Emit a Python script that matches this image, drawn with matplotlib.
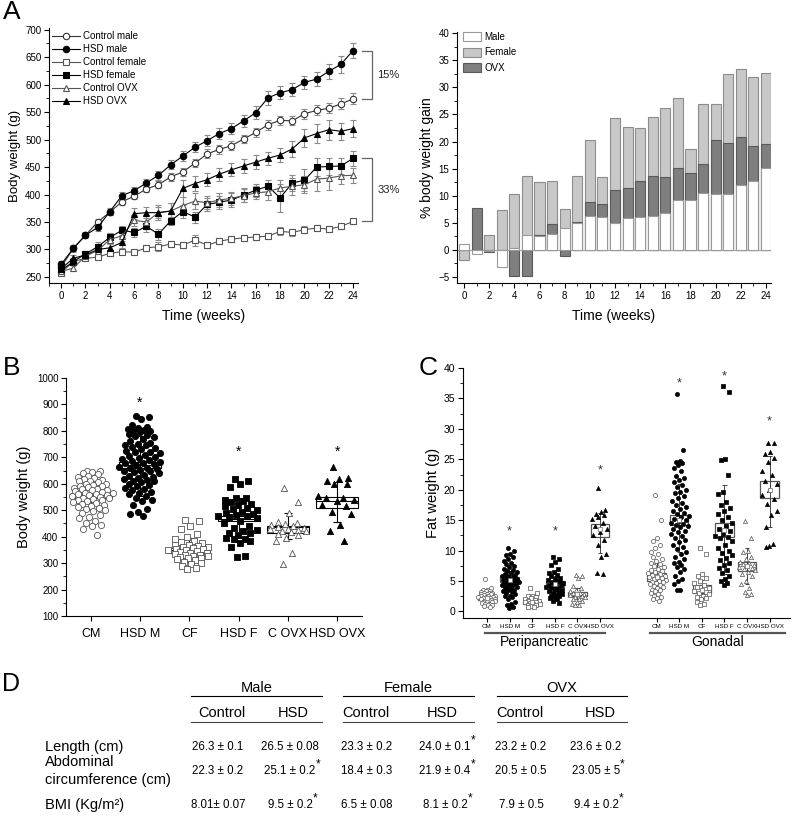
import numpy as np
import matplotlib
matplotlib.use("Agg")
import matplotlib.pyplot as plt
from matplotlib.lines import Line2D
from matplotlib.text import Annotation
from matplotlib.ticker import MultipleLocator
from matplotlib.transforms import blended_transform_factory

plt.rcParams['font.family'] = ['Liberation Sans', 'DejaVu Sans']

# ---------------- data: panel A (body weight time course) ----------------
weeks = np.arange(25)
ctrl_male = [268, 302, 326, 350, 368, 387, 397, 410, 418, 432, 441, 457, 474, 482, 489,
             501, 513, 527, 535, 534, 547, 553, 557, 565, 574]
hsd_male = [273, 302, 326, 340, 369, 398, 407, 421, 435, 454, 470, 486, 498, 511, 520,
            534, 549, 576, 585, 591, 604, 610, 624, 637, 662]
ctrl_female = [258, 278, 284, 286, 293, 296, 295, 303, 305, 310, 308, 317, 308, 315, 319,
               321, 323, 324, 333, 331, 336, 339, 337, 342, 351]
hsd_female = [262, 278, 292, 305, 322, 335, 331, 342, 328, 352, 369, 359, 382, 386, 390,
              399, 408, 415, 394, 421, 426, 450, 451, 452, 466]
ctrl_ovx = [260, 266, 288, 298, 318, 325, 353, 350, 367, 370, 380, 388, 385, 390, 393,
            398, 403, 405, 412, 415, 418, 428, 430, 434, 435]
hsd_ovx = [265, 284, 290, 300, 303, 313, 365, 367, 367, 370, 411, 420, 427, 437, 445,
           452, 459, 466, 472, 483, 503, 511, 518, 515, 520]

ctrl_male_err = [5, 5, 4, 5, 5, 6, 6, 6, 6, 7, 7, 7, 8, 8, 8, 8, 8, 9, 8, 8, 9, 9, 9, 10, 10]
hsd_male_err = [6, 6, 5, 6, 6, 7, 7, 8, 8, 8, 9, 9, 10, 10, 10, 11, 12, 13, 12, 12, 12, 13, 14, 15, 13]
ctrl_female_err = [4, 4, 4, 4, 5, 5, 4, 6, 8, 5, 5, 10, 5, 5, 5, 5, 5, 5, 7, 6, 6, 5, 5, 5, 5]
hsd_female_err = [6, 6, 6, 8, 8, 8, 8, 10, 10, 8, 12, 10, 12, 12, 12, 12, 12, 12, 25, 15, 20, 16, 16, 14, 14]
ctrl_ovx_err = [5, 5, 6, 6, 8, 10, 10, 12, 14, 15, 15, 15, 12, 12, 12, 12, 12, 15, 15, 15, 15, 22, 22, 15, 14]
hsd_ovx_err = [6, 6, 8, 8, 10, 10, 10, 10, 10, 15, 15, 14, 12, 12, 12, 12, 12, 12, 12, 14, 17, 18, 18, 15, 16]

# % body weight gain (HSD vs control)
gain_male = [1.1, -0.7, -0.2, -3.1, 0.4, 2.7, 2.5, 3.0, 4.0, 5.0, 6.3, 6.1, 5.0, 5.9, 6.1,
             6.3, 6.8, 9.3, 9.3, 10.5, 10.3, 10.3, 11.9, 12.8, 15.1]
gain_female = [-1.8, 0.0, 2.7, 7.4, 10.3, 13.7, 12.5, 12.8, 7.6, 13.7, 20.2, 13.4, 24.3, 22.6, 22.5,
               24.5, 26.1, 28.1, 18.6, 27.0, 27.0, 32.5, 33.4, 31.9, 32.7]
gain_ovx = [0.0, 7.8, -0.4, 0.0, -4.9, -4.8, 2.7, 4.7, -1.1, 5.2, 8.8, 8.5, 11.0, 11.4, 12.7,
            13.7, 13.5, 15.2, 14.2, 15.8, 20.2, 19.8, 20.9, 19.1, 19.5]

# ---------------- data: panel B (final body weight) ----------------
groups_b = ['CM', 'HSD M', 'CF', 'HSD F', 'C OVX', 'HSD OVX']
bw_cm = [650, 648, 645, 640, 636, 630, 626, 621, 618, 615, 612, 609, 605, 601, 598, 596, 593, 590,
         588, 585, 582, 580, 577, 575, 572, 570, 567, 565, 562, 560, 558, 556, 553, 550, 548, 545,
         542, 540, 537, 535, 532, 529, 525, 520, 516, 512, 509, 505, 500, 496, 490, 482, 476, 470,
         461, 452, 445, 440, 430, 405]
bw_hsdm = [858, 852, 845, 822, 815, 810, 808, 805, 800, 798, 795, 790, 786, 780, 776, 770, 762, 755,
           750, 748, 745, 740, 735, 730, 725, 722, 720, 715, 710, 705, 700, 698, 695, 690, 685, 682,
           680, 678, 675, 670, 665, 660, 658, 655, 652, 650, 648, 645, 640, 635, 630, 625, 620, 618,
           615, 612, 610, 605, 600, 595, 590, 585, 580, 575, 570, 565, 560, 552, 545, 540, 535, 520,
           505, 495, 485, 480]
bw_cf = [462, 458, 440, 430, 410, 400, 392, 385, 378, 375, 370, 368, 365, 362, 360, 358, 355, 352,
         350, 348, 345, 342, 340, 338, 335, 332, 330, 328, 325, 322, 320, 318, 315, 310, 305, 300,
         295, 290, 282, 278]
bw_hsdf = [618, 612, 600, 588, 548, 545, 540, 535, 530, 525, 520, 515, 510, 505, 500, 495, 490, 485,
           482, 480, 478, 475, 470, 460, 450, 440, 432, 425, 420, 415, 412, 405, 395, 392, 390, 385,
           375, 362, 328, 322]
bw_covx = [585, 532, 490, 455, 452, 448, 443, 440, 436, 432, 430, 428, 425, 422, 420, 418, 410, 405,
           395, 385, 340, 295]
bw_hsdovx = [662, 622, 618, 612, 600, 600, 555, 548, 545, 540, 535, 520, 515, 495, 485, 445, 420, 385]
bw_box_lo = [548, 659, 340, 458, 415, 510]
bw_box_hi = [563, 684, 356, 479, 442, 549]
bw_mean = [556, 670, 348, 468, 436, 533]
bw_whisk_lo = [505, 555, 305, 395, 390, 455]
bw_whisk_hi = [610, 780, 395, 545, 490, 606]
bw_star = [None, 905, None, 722, None, 722]

# ---------------- data: panel C (fat weight) ----------------
peri_cm = [5.4, 3.8, 3.6, 3.5, 3.4, 3.3, 3.2, 3.1, 3.0, 3.0, 2.9, 2.8, 2.8, 2.7, 2.6, 2.5, 2.5, 2.4,
           2.4, 2.3, 2.2, 2.2, 2.1, 2.0, 2.0, 1.9, 1.8, 1.8, 1.7, 1.6, 1.5, 1.5, 1.4, 1.3, 1.2, 1.1,
           1.0, 0.9, 0.8]
peri_hsdm = [10.4, 10.0, 9.5, 9.2, 9.0, 8.6, 8.3, 8.0, 7.8, 7.5, 7.3, 7.0, 6.8, 6.6, 6.5, 6.3, 6.1,
             6.0, 5.9, 5.8, 5.6, 5.5, 5.4, 5.3, 5.2, 5.1, 5.0, 4.9, 4.8, 4.7, 4.6, 4.5, 4.4, 4.3,
             4.2, 4.0, 3.9, 3.8, 3.6, 3.5, 3.4, 3.2, 3.0, 2.8, 2.6, 2.5, 2.3, 2.0, 1.5, 1.2, 1.0,
             0.8, 0.6]
peri_cf = [3.9, 3.0, 2.6, 2.5, 2.3, 2.2, 2.0, 1.9, 1.8, 1.7, 1.6, 1.5, 1.5, 1.4, 1.3, 1.2, 1.1,
           1.0, 0.9, 0.8, 0.7]
peri_hsdf = [8.9, 8.6, 8.2, 7.6, 7.0, 6.5, 6.3, 6.0, 5.8, 5.5, 5.3, 5.1, 5.0, 4.8, 4.7, 4.5, 4.4,
             4.3, 4.2, 4.0, 3.9, 3.8, 3.6, 3.5, 3.4, 3.2, 3.0, 2.9, 2.7, 2.6, 2.5, 2.4, 2.2, 2.0,
             1.8, 1.4]
peri_covx = [6.0, 5.8, 5.5, 4.2, 3.8, 3.5, 3.3, 3.1, 3.0, 2.9, 2.8, 2.7, 2.5, 2.4, 2.3, 2.1, 2.0,
             1.8, 1.6, 1.3, 1.1, 1.0]
peri_hsdovx = [20.3, 16.7, 16.4, 16.0, 15.8, 15.6, 15.2, 14.5, 14.0, 13.5, 13.0, 12.5, 11.7, 11.0,
               9.5, 9.0, 6.3, 6.1]
gon_cm = [19.2, 15.1, 12.0, 11.6, 11.0, 10.5, 9.8, 9.5, 9.0, 8.6, 8.3, 8.0, 7.8, 7.5, 7.3, 7.0, 6.8,
          6.6, 6.5, 6.3, 6.2, 6.0, 5.9, 5.8, 5.6, 5.5, 5.4, 5.2, 5.0, 4.9, 4.8, 4.6, 4.5, 4.3, 4.2,
          4.0, 3.8, 3.6, 3.5, 3.3, 3.0, 2.8, 2.6, 2.4, 2.2, 2.0, 1.8]
gon_hsdm = [35.8, 26.6, 24.7, 24.5, 24.4, 24.0, 23.5, 23.0, 22.3, 22.0, 21.6, 21.2, 20.8, 20.5, 20.0,
            19.7, 19.4, 19.0, 18.6, 18.2, 17.8, 17.5, 17.2, 16.8, 16.5, 16.2, 16.0, 15.7, 15.5, 15.2,
            15.0, 14.8, 14.6, 14.4, 14.2, 14.0, 13.8, 13.5, 13.2, 13.0, 12.7, 12.4, 12.0, 11.7, 11.4,
            11.0, 10.6, 10.2, 9.8, 9.5, 9.0, 8.6, 8.2, 8.0, 7.6, 7.3, 7.0, 6.5, 5.8, 5.4, 5.0, 4.5,
            3.6, 3.5]
gon_cf = [10.5, 9.5, 6.1, 5.8, 5.5, 5.0, 4.6, 4.3, 4.0, 3.8, 3.6, 3.4, 3.2, 3.0, 2.8, 2.6, 2.4, 2.2,
          2.0, 1.6, 1.3, 1.0]
gon_hsdf = [37.0, 36.1, 25.0, 24.9, 22.4, 19.7, 19.3, 18.0, 17.5, 17.0, 16.5, 16.0, 15.5, 15.0, 14.5,
            14.0, 13.6, 13.2, 12.8, 12.4, 12.2, 12.0, 11.5, 11.0, 10.5, 10.0, 9.6, 9.2, 8.8, 8.5, 8.0,
            7.6, 7.2, 6.8, 6.3, 5.8, 5.3, 5.0, 4.6, 4.3]
gon_covx = [14.8, 12.0, 10.0, 9.8, 9.0, 8.6, 8.2, 8.0, 7.8, 7.6, 7.5, 7.3, 7.1, 7.0, 6.8, 6.5, 6.2,
            5.8, 5.0, 4.5, 3.8, 3.2, 2.9, 2.7]
gon_hsdovx = [27.7, 27.6, 26.2, 25.9, 25.2, 24.5, 23.0, 22.5, 21.5, 21.0, 20.0, 19.2, 18.5, 17.6,
              16.5, 15.8, 13.8, 11.1, 10.8, 10.6]
fat_box_lo = [1.9, 4.8, 1.3, 4.1, 2.5, 12.3, 5.0, 14.2, 3.0, 12.2, 6.7, 18.6]
fat_box_hi = [2.6, 5.6, 1.8, 5.0, 3.2, 14.4, 6.4, 15.8, 4.3, 14.6, 8.2, 21.4]
fat_mean = [2.2, 5.2, 1.5, 4.5, 2.9, 13.5, 5.7, 15.0, 3.6, 13.4, 7.5, 20.0]
fat_whisk_lo = [1.6, 3.8, 1.1, 3.3, 2.0, 9.6, 3.5, 9.8, 2.0, 6.2, 4.5, 13.8]
fat_whisk_hi = [2.9, 6.6, 2.2, 5.8, 3.8, 16.2, 8.0, 21.0, 5.2, 20.7, 10.5, 25.5]
fat_star = [None, 13.1, None, 13.1, None, 23.2, None, 37.5, None, 38.6, None, 31.2]

# ---------------- data: panel D (table) ----------------
table_groups = ['Male', 'Female', 'OVX']
table_rows = ['Length (cm)', 'Abdominal\ncircumference (cm)', 'BMI (Kg/m\u00b2)']
table_vals = [
    ['26.3 \u00b1 0.1', '26.5 \u00b1 0.08', '23.3 \u00b1 0.2', '24.0 \u00b1 0.1', '23.2 \u00b1 0.2', '23.6 \u00b1 0.2'],
    ['22.3 \u00b1 0.2', '25.1 \u00b1 0.2', '18.4 \u00b1 0.3', '21.9 \u00b1 0.4', '20.5 \u00b1 0.5', '23.05 \u00b1 5'],
    ['8.01\u00b1 0.07', '9.5 \u00b1 0.2', '6.5 \u00b1 0.08', '8.1 \u00b1 0.2', '7.9 \u00b1 0.5', '9.4 \u00b1 0.2'],
]
table_sig = [
    [False, False, False, True, False, False],
    [False, True, False, True, False, True],
    [False, True, False, True, False, True],
]

# ---------------- figure ----------------
W, H = 797, 822
fig = plt.figure(figsize=(W / 100, H / 100), dpi=100)


def px_axes(l, t, r, b):
    return fig.add_axes([l / W, 1 - b / H, (r - l) / W, (b - t) / H])


def style(ax, fs=7):
    for s in ('top', 'right'):
        ax.spines[s].set_visible(False)
    for s in ('left', 'bottom'):
        ax.spines[s].set_linewidth(0.8)
    ax.tick_params(which='major', direction='out', length=3.5, width=0.8, labelsize=fs, pad=2)
    ax.tick_params(which='minor', direction='out', length=2, width=0.6)


def jitter(n, half):
    # low-discrepancy spread, narrower at the extremes of each cloud
    base = ((np.arange(n) * 0.6180339887 + 0.31) % 1.0) - 0.5
    q = np.arange(n) / max(n - 1, 1)
    shape = 0.45 + 0.55 * (1 - np.abs(2 * q - 1))
    return base * 2 * half * shape


def ftext(x, y, s, **kw):
    return fig.text(x / W, 1 - y / H, s, **kw)


def fline(x0, x1, y, **kw):
    fig.add_artist(Line2D([x0 / W, x1 / W], [1 - y / H] * 2, **kw))


# === A left: body weight over time ===
ax = px_axes(49, 28, 358, 283)
style(ax)
lines_a = [
    ('Control male', ctrl_male, ctrl_male_err, 'o', 4.6, 'white', '#333333'),
    ('HSD male', hsd_male, hsd_male_err, 'o', 4.6, 'black', 'black'),
    ('Control female', ctrl_female, ctrl_female_err, 's', 4.2, 'white', '#555555'),
    ('HSD female', hsd_female, hsd_female_err, 's', 4.2, 'black', 'black'),
    ('Control OVX', ctrl_ovx, ctrl_ovx_err, '^', 5.0, 'white', '#555555'),
    ('HSD OVX', hsd_ovx, hsd_ovx_err, '^', 5.0, 'black', 'black'),
]
for label, y, e, m, ms, fc, c in lines_a:
    ax.errorbar(weeks, y, yerr=e, fmt='none', ecolor='#8a8a8a', elinewidth=0.8,
                capsize=2, capthick=0.8, zorder=1)
    ax.plot(weeks, y, marker=m, ms=ms, mfc=fc, mec=c, mew=0.8, color=c, lw=0.8,
            label=label, zorder=2)
ax.set_xlim(-1.0, 24.4)
ax.set_ylim(239, 703)
ax.xaxis.set_major_locator(MultipleLocator(2))
ax.xaxis.set_minor_locator(MultipleLocator(1))
ax.yaxis.set_major_locator(MultipleLocator(50))
ax.yaxis.set_minor_locator(MultipleLocator(25))
ax.set_ylabel('Body weight (g)', fontsize=9.5, labelpad=3)
ax.set_xlabel('Time (weeks)', fontsize=10, labelpad=6)
ax.legend(loc='upper left', bbox_to_anchor=(0.0, 1.0), frameon=False, fontsize=7,
          handlelength=2.9, handletextpad=0.3, labelspacing=0.32, borderpad=0.3,
          borderaxespad=0.0)
# brackets
for top, bot, txt in [(hsd_male[-1], ctrl_male[-1], '15%'), (hsd_female[-1], ctrl_female[-1], '33%')]:
    ax.plot([24.75, 25.55, 25.55, 24.75], [top, top, bot, bot], color='#666666', lw=0.9,
            clip_on=False)
    ax.text(26.0, (top + bot) / 2, txt, fontsize=8, va='center', ha='left', color='#222222',
            clip_on=False)

# === A right: % body weight gain ===
ax = px_axes(457, 32, 771, 283)
style(ax)
ax.axhline(0, color='#aaaaaa', lw=0.8, zorder=0)
b_f = ax.bar(weeks, gain_female, width=0.8, color='#c8c8c8', edgecolor='#8c8c8c', lw=0.8, zorder=1)
b_o = ax.bar(weeks, gain_ovx, width=0.8, color='#7f7f7f', edgecolor='#5a5a5a', lw=0.8, zorder=2)
b_m = ax.bar(weeks, gain_male, width=0.8, color='white', edgecolor='#9a9a9a', lw=0.8, zorder=3)
ax.set_xlim(-0.56, 24.4)
ax.set_ylim(-6.1, 40.2)
ax.xaxis.set_major_locator(MultipleLocator(2))
ax.xaxis.set_minor_locator(MultipleLocator(1))
ax.yaxis.set_major_locator(MultipleLocator(5))
ax.yaxis.set_minor_locator(MultipleLocator(2.5))
ax.set_ylabel('% body weight gain', fontsize=10, labelpad=3)
ax.set_xlabel('Time (weeks)', fontsize=10, labelpad=6)
ax.legend([b_m, b_f, b_o], ['Male', 'Female', 'OVX'], loc='upper left',
          bbox_to_anchor=(0.02, 1.0), frameon=False, fontsize=7, handlelength=1.85,
          handleheight=1.05, handletextpad=0.3, labelspacing=0.55, borderpad=0.0,
          borderaxespad=0.0)

# === B: body weight per group ===
ax = px_axes(66, 378, 362, 616)
style(ax)
pos_b = np.arange(1, 7)
clouds_b = [
    (bw_cm, 'o', 'white', '#555555'),
    (bw_hsdm, 'o', 'black', 'black'),
    (bw_cf, 's', 'white', '#555555'),
    (bw_hsdf, 's', 'black', 'black'),
    (bw_covx, '^', 'white', '#555555'),
    (bw_hsdovx, '^', 'black', 'black'),
]
ax.bar(pos_b, np.array(bw_box_hi) - np.array(bw_box_lo), bottom=bw_box_lo, width=0.85,
       color='white', edgecolor='black', lw=0.8, zorder=1)
ax.hlines(bw_mean, pos_b - 0.425, pos_b + 0.425, color='black', lw=0.8, zorder=1)
ax.vlines(pos_b, bw_whisk_lo, bw_whisk_hi, color='black', lw=0.8, zorder=1)
ax.hlines(bw_whisk_lo, pos_b - 0.08, pos_b + 0.08, color='black', lw=0.8, zorder=1)
ax.hlines(bw_whisk_hi, pos_b - 0.08, pos_b + 0.08, color='black', lw=0.8, zorder=1)
for p, (vals, m, fc, ec) in zip(pos_b, clouds_b):
    ax.scatter(p + jitter(len(vals), 0.48), vals, s=20, marker=m, facecolor=fc,
               edgecolor=ec, linewidths=0.6, zorder=2)
for p, s in zip(pos_b, bw_star):
    if s is not None:
        ax.text(p, s, '*', ha='center', va='center', fontsize=10)
ax.set_xlim(0.5, 6.5)
ax.set_ylim(100, 1000)
ax.set_xticks(pos_b)
ax.set_xticklabels(groups_b, fontsize=9)
ax.tick_params(axis='x', pad=5)
ax.yaxis.set_major_locator(MultipleLocator(100))
ax.yaxis.set_minor_locator(MultipleLocator(50))
ax.set_ylabel('Body weight (g)', fontsize=10.5, labelpad=4)

# === C: fat weight ===
ax = px_axes(463, 368, 790, 618)
style(ax, fs=7.5)
pos_c = np.array([1, 2, 3, 4, 5, 6, 8.5, 9.5, 10.5, 11.5, 12.5, 13.5])
clouds_c = [
    (peri_cm, 'o', 'white', '#555555'), (peri_hsdm, 'o', 'black', 'black'),
    (peri_cf, 's', 'white', '#555555'), (peri_hsdf, 's', 'black', 'black'),
    (peri_covx, '^', 'white', '#555555'), (peri_hsdovx, '^', 'black', 'black'),
    (gon_cm, 'o', 'white', '#555555'), (gon_hsdm, 'o', 'black', 'black'),
    (gon_cf, 's', 'white', '#555555'), (gon_hsdf, 's', 'black', 'black'),
    (gon_covx, '^', 'white', '#555555'), (gon_hsdovx, '^', 'black', 'black'),
]
ax.bar(pos_c, np.array(fat_box_hi) - np.array(fat_box_lo), bottom=fat_box_lo, width=0.82,
       color='white', edgecolor='#555555', lw=0.9, zorder=1)
ax.vlines(pos_c, fat_whisk_lo, fat_whisk_hi, color='#444444', lw=0.7, zorder=1)
ax.hlines(fat_whisk_lo, pos_c - 0.1, pos_c + 0.1, color='#444444', lw=0.7, zorder=1)
ax.hlines(fat_whisk_hi, pos_c - 0.1, pos_c + 0.1, color='#444444', lw=0.7, zorder=1)
for p, (vals, m, fc, ec) in zip(pos_c, clouds_c):
    ax.scatter(p + jitter(len(vals), 0.45), vals, s=9, marker=m, facecolor=fc,
               edgecolor=ec, linewidths=0.5, zorder=2)
ax.scatter(pos_c, fat_mean, s=6, marker='s', facecolor='white', edgecolor='#777777',
           linewidths=0.5, zorder=3)
for p, s in zip(pos_c, fat_star):
    if s is not None:
        ax.text(p, s, '*', ha='center', va='center', fontsize=9, color='#333333')
ax.set_xlim(-0.06, 14.4)
ax.set_ylim(-1.07, 40)
ax.set_xticks(pos_c)
ax.set_xticklabels(groups_b * 2, fontsize=4.5)
ax.tick_params(axis='x', pad=1.5, length=3)
ax.yaxis.set_major_locator(MultipleLocator(5))
ax.yaxis.set_minor_locator(MultipleLocator(2.5))
ax.set_ylabel('Fat weight (g)', fontsize=10.5, labelpad=3)
tr = blended_transform_factory(ax.transData, ax.transAxes)
for x0, x1, name in [(0.91, 6.22, 'Peripancreatic'), (8.21, 14.19, 'Gonadal')]:
    ax.plot([x0, x1], [-0.06, -0.06], color='#555555', lw=1.6, transform=tr, clip_on=False)
    ax.text((x0 + x1) / 2, -0.095, name, transform=tr, ha='center', va='center', fontsize=10)

# === D: table ===
group_x = [(191, 322), (343, 474), (497, 627)]
col_ctrl = [222, 366, 520]
col_hsd = [293, 442, 600]
for (x0, x1), name, xc, xh in zip(group_x, table_groups, col_ctrl, col_hsd):
    ftext((x0 + x1) / 2, 688, name, ha='center', va='center', fontsize=10.5)
    fline(x0, x1, 696, color='black', lw=0.8)
    ftext(xc, 713, 'Control', ha='center', va='center', fontsize=10.5)
    ftext(xh, 713, 'HSD', ha='center', va='center', fontsize=10.5)
    fline(x0, x1, 722, color='#444444', lw=0.8)

row_y = [747, 771, 805]
val_x = [218, 290, 367, 445, 521, 596]
for r, (label, y) in enumerate(zip(table_rows, row_y)):
    ftext(45, y, label, ha='left', va='center', fontsize=10.5, linespacing=1.4)
    for c, x in enumerate(val_x):
        t = ftext(x, y, table_vals[r][c], ha='center', va='center', fontsize=8.3)
        if table_sig[r][c]:
            fig.add_artist(Annotation('*', xy=(1.0, 0.55), xycoords=t, fontsize=8.5,
                                      ha='left', va='bottom'))

# panel letters
ftext(12, 12, 'A', ha='center', va='center', fontsize=19)
ftext(12, 368, 'B', ha='center', va='center', fontsize=19)
ftext(428, 368, 'C', ha='center', va='center', fontsize=19)
ftext(11, 684, 'D', ha='center', va='center', fontsize=18)

fig.savefig('out.png', dpi=100)
